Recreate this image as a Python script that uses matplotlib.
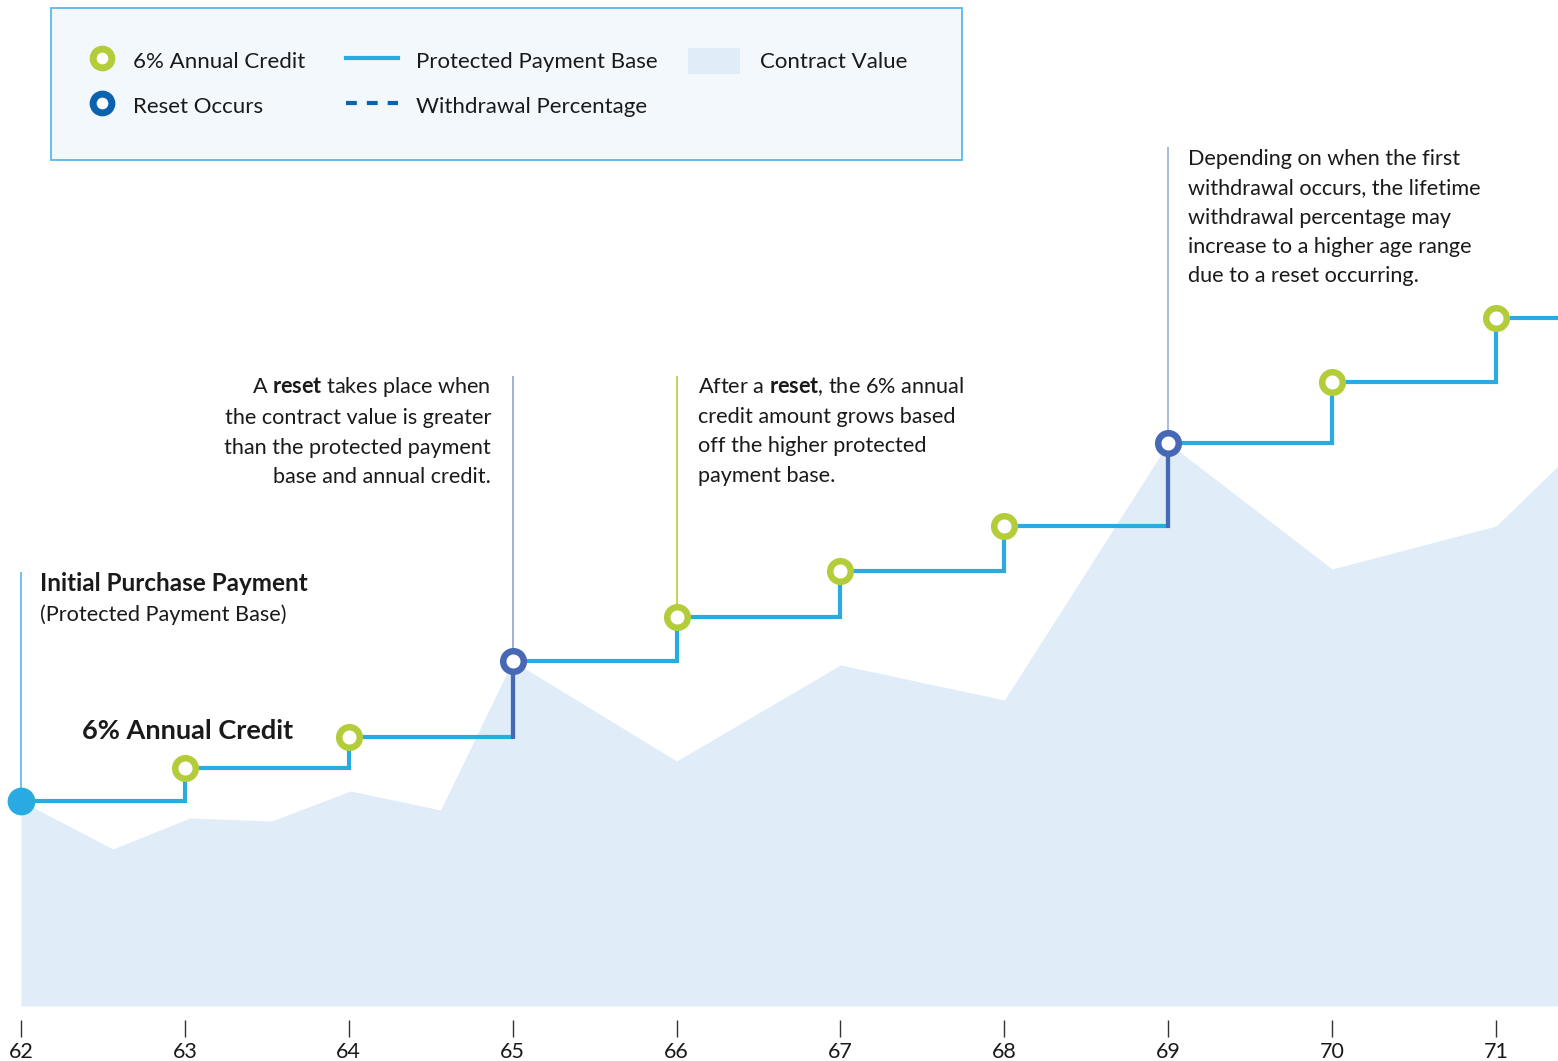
import matplotlib

matplotlib.use("Agg")
import matplotlib.pyplot as plt
from matplotlib.lines import Line2D
from matplotlib.patches import Patch, Rectangle

plt.rcParams["font.family"] = ["Lato", "DejaVu Sans"]
plt.rcParams["mathtext.fontset"] = "custom"
plt.rcParams["mathtext.rm"] = "Lato"
plt.rcParams["mathtext.bf"] = "Lato:bold"

# ages on the x axis
ages = [62, 63, 64, 65, 66, 67, 68, 69, 70, 71]
age_end = 71.378

# protected payment base, one level per age (arbitrary units)
base_values = [205, 238, 269, 345, 389, 435, 480, 563, 624, 688]
reset_ages = [65, 69]
credit_ages = [63, 64, 66, 67, 68, 70, 71]

# contract value
cv_ages = [62, 62.56, 63.03, 63.53, 64.01, 64.56, 65, 66, 67, 68, 69, 70, 71, age_end]
cv_values = [205, 157, 188, 185, 215, 196, 345, 245, 341, 306, 563, 437, 480, 540]

LIGHT_BLUE = "#29abe2"
GREEN = "#b2cd39"
RESET_BLUE = "#4768b4"
LEGEND_BLUE = "#0b62ae"
AREA = "#e0ecf8"
TEXT = "#1a1a1a"

W, H = 1558, 1061
fig = plt.figure(figsize=(W / 100, H / 100), dpi=100)
ax = fig.add_axes([0, 55 / H, 1, 1006 / H])
ax.set_xlim(62 - 21 / 163.89, age_end)
ax.set_ylim(0, 1006)

base_lookup = dict(zip(ages, base_values))

# contract value area
ax.fill_between(cv_ages, cv_values, 0, color=AREA, lw=0, zorder=1)

# protected payment base steps
step_x = ages + [age_end]
step_y = base_values + [base_values[-1]]
ax.step(step_x, step_y, where="post", color=LIGHT_BLUE, lw=3,
        solid_joinstyle="miter", zorder=3)
for a in reset_ages:
    prev = base_values[ages.index(a) - 1]
    ax.vlines(a, prev - 1.5, base_lookup[a], color=RESET_BLUE, lw=3, zorder=4)

# callout lines
callouts = [
    (62, 205, 434, "#5bb5e5"),
    (65, 345, 630, "#8da3d4"),
    (66, 389, 630, GREEN),
    (69, 563, 859, "#9ab0dc"),
]
for a, y0, y1, c in callouts:
    ax.vlines(a, y0, y1, color=c, lw=1.2, zorder=2)

# markers
ax.plot([ages[0]], [base_values[0]], "o", ms=20, color=LIGHT_BLUE, mec="none", zorder=6)
ax.plot(credit_ages, [base_lookup[a] for a in credit_ages], "o", ms=14.8,
        mfc="white", mec=GREEN, mew=4.7, ls="none", zorder=6)
ax.plot(reset_ages, [base_lookup[a] for a in reset_ages], "o", ms=14.8,
        mfc="white", mec=RESET_BLUE, mew=4.7, ls="none", zorder=6)

# annotations
fs = 15.6
ls = 1.58
ax.text(62.116, 434, "Initial Purchase Payment", fontsize=17.5, fontweight="bold",
        color=TEXT, va="top")
ax.text(62.116, 402, "(Protected Payment Base)", fontsize=fs, color=TEXT, va="top")
ax.text(63.66, 275, "6% Annual Credit", fontsize=19.5, fontweight="bold",
        color=TEXT, va="center", ha="right")
ax.text(64.868, 631,
        "A $\\mathbf{reset}$ takes place when\nthe contract value is greater\n"
        "than the protected payment\nbase and annual credit.",
        fontsize=fs, color=TEXT, va="top", ha="right", multialignment="right",
        linespacing=ls)
ax.text(66.13, 631,
        "After a $\\mathbf{reset}$, the 6% annual\ncredit amount grows based\n"
        "off the higher protected\npayment base.",
        fontsize=fs, color=TEXT, va="top", ha="left", linespacing=ls)
ax.text(69.12, 857,
        "Depending on when the first\nwithdrawal occurs, the lifetime\n"
        "withdrawal percentage may\nincrease to a higher age range\n"
        "due to a reset occurring.",
        fontsize=fs, color=TEXT, va="top", ha="left", linespacing=ls)

# x axis
for s in ["top", "left", "right"]:
    ax.spines[s].set_visible(False)
ax.spines["bottom"].set_position(("outward", 10))
ax.spines["bottom"].set_color("none")
ax.set_yticks([])
ax.set_xticks(ages)
ax.tick_params(axis="x", direction="out", length=12, width=1, color="#333333",
               labelsize=15.5, labelcolor=TEXT, pad=4)

# legend box
fig.patches.append(Rectangle((51 / W, 1 - 160 / H), 911 / W, 152 / H,
                             transform=fig.transFigure, facecolor="#f3f8fc",
                             edgecolor="#5bb8ea", lw=1.3, zorder=0))

legend_fs = 16
legend_kw = dict(loc="upper left", frameon=False, fontsize=legend_fs,
                 labelspacing=0.86, borderpad=0, borderaxespad=0,
                 labelcolor=TEXT, handleheight=1.4)
legend_top = 1 - 48 / H

marker_handles = [
    Line2D([], [], marker="o", ls="none", ms=13.5, mfc="white", mec=GREEN, mew=5),
    Line2D([], [], marker="o", ls="none", ms=13.5, mfc="white", mec=LEGEND_BLUE, mew=5),
]
fig.legend(marker_handles, ["6% Annual Credit", "Reset Occurs"],
           bbox_to_anchor=(89 / W, legend_top), handlelength=1.2,
           handletextpad=0.8, **legend_kw)

line_handles = [
    Line2D([], [], color=LIGHT_BLUE, lw=3),
    Line2D([], [], color=LEGEND_BLUE, lw=3, ls=(0, (2.6, 2.4))),
]
fig.legend(line_handles, ["Protected Payment Base", "Withdrawal Percentage"],
           bbox_to_anchor=(346 / W, legend_top), handlelength=2.34,
           handletextpad=0.81, **legend_kw)

fig.legend([Patch(facecolor=AREA, edgecolor="none")], ["Contract Value"],
           bbox_to_anchor=(688 / W, legend_top), handlelength=2.34,
           handletextpad=0.9, **legend_kw)

fig.savefig("out.png", dpi=100)
